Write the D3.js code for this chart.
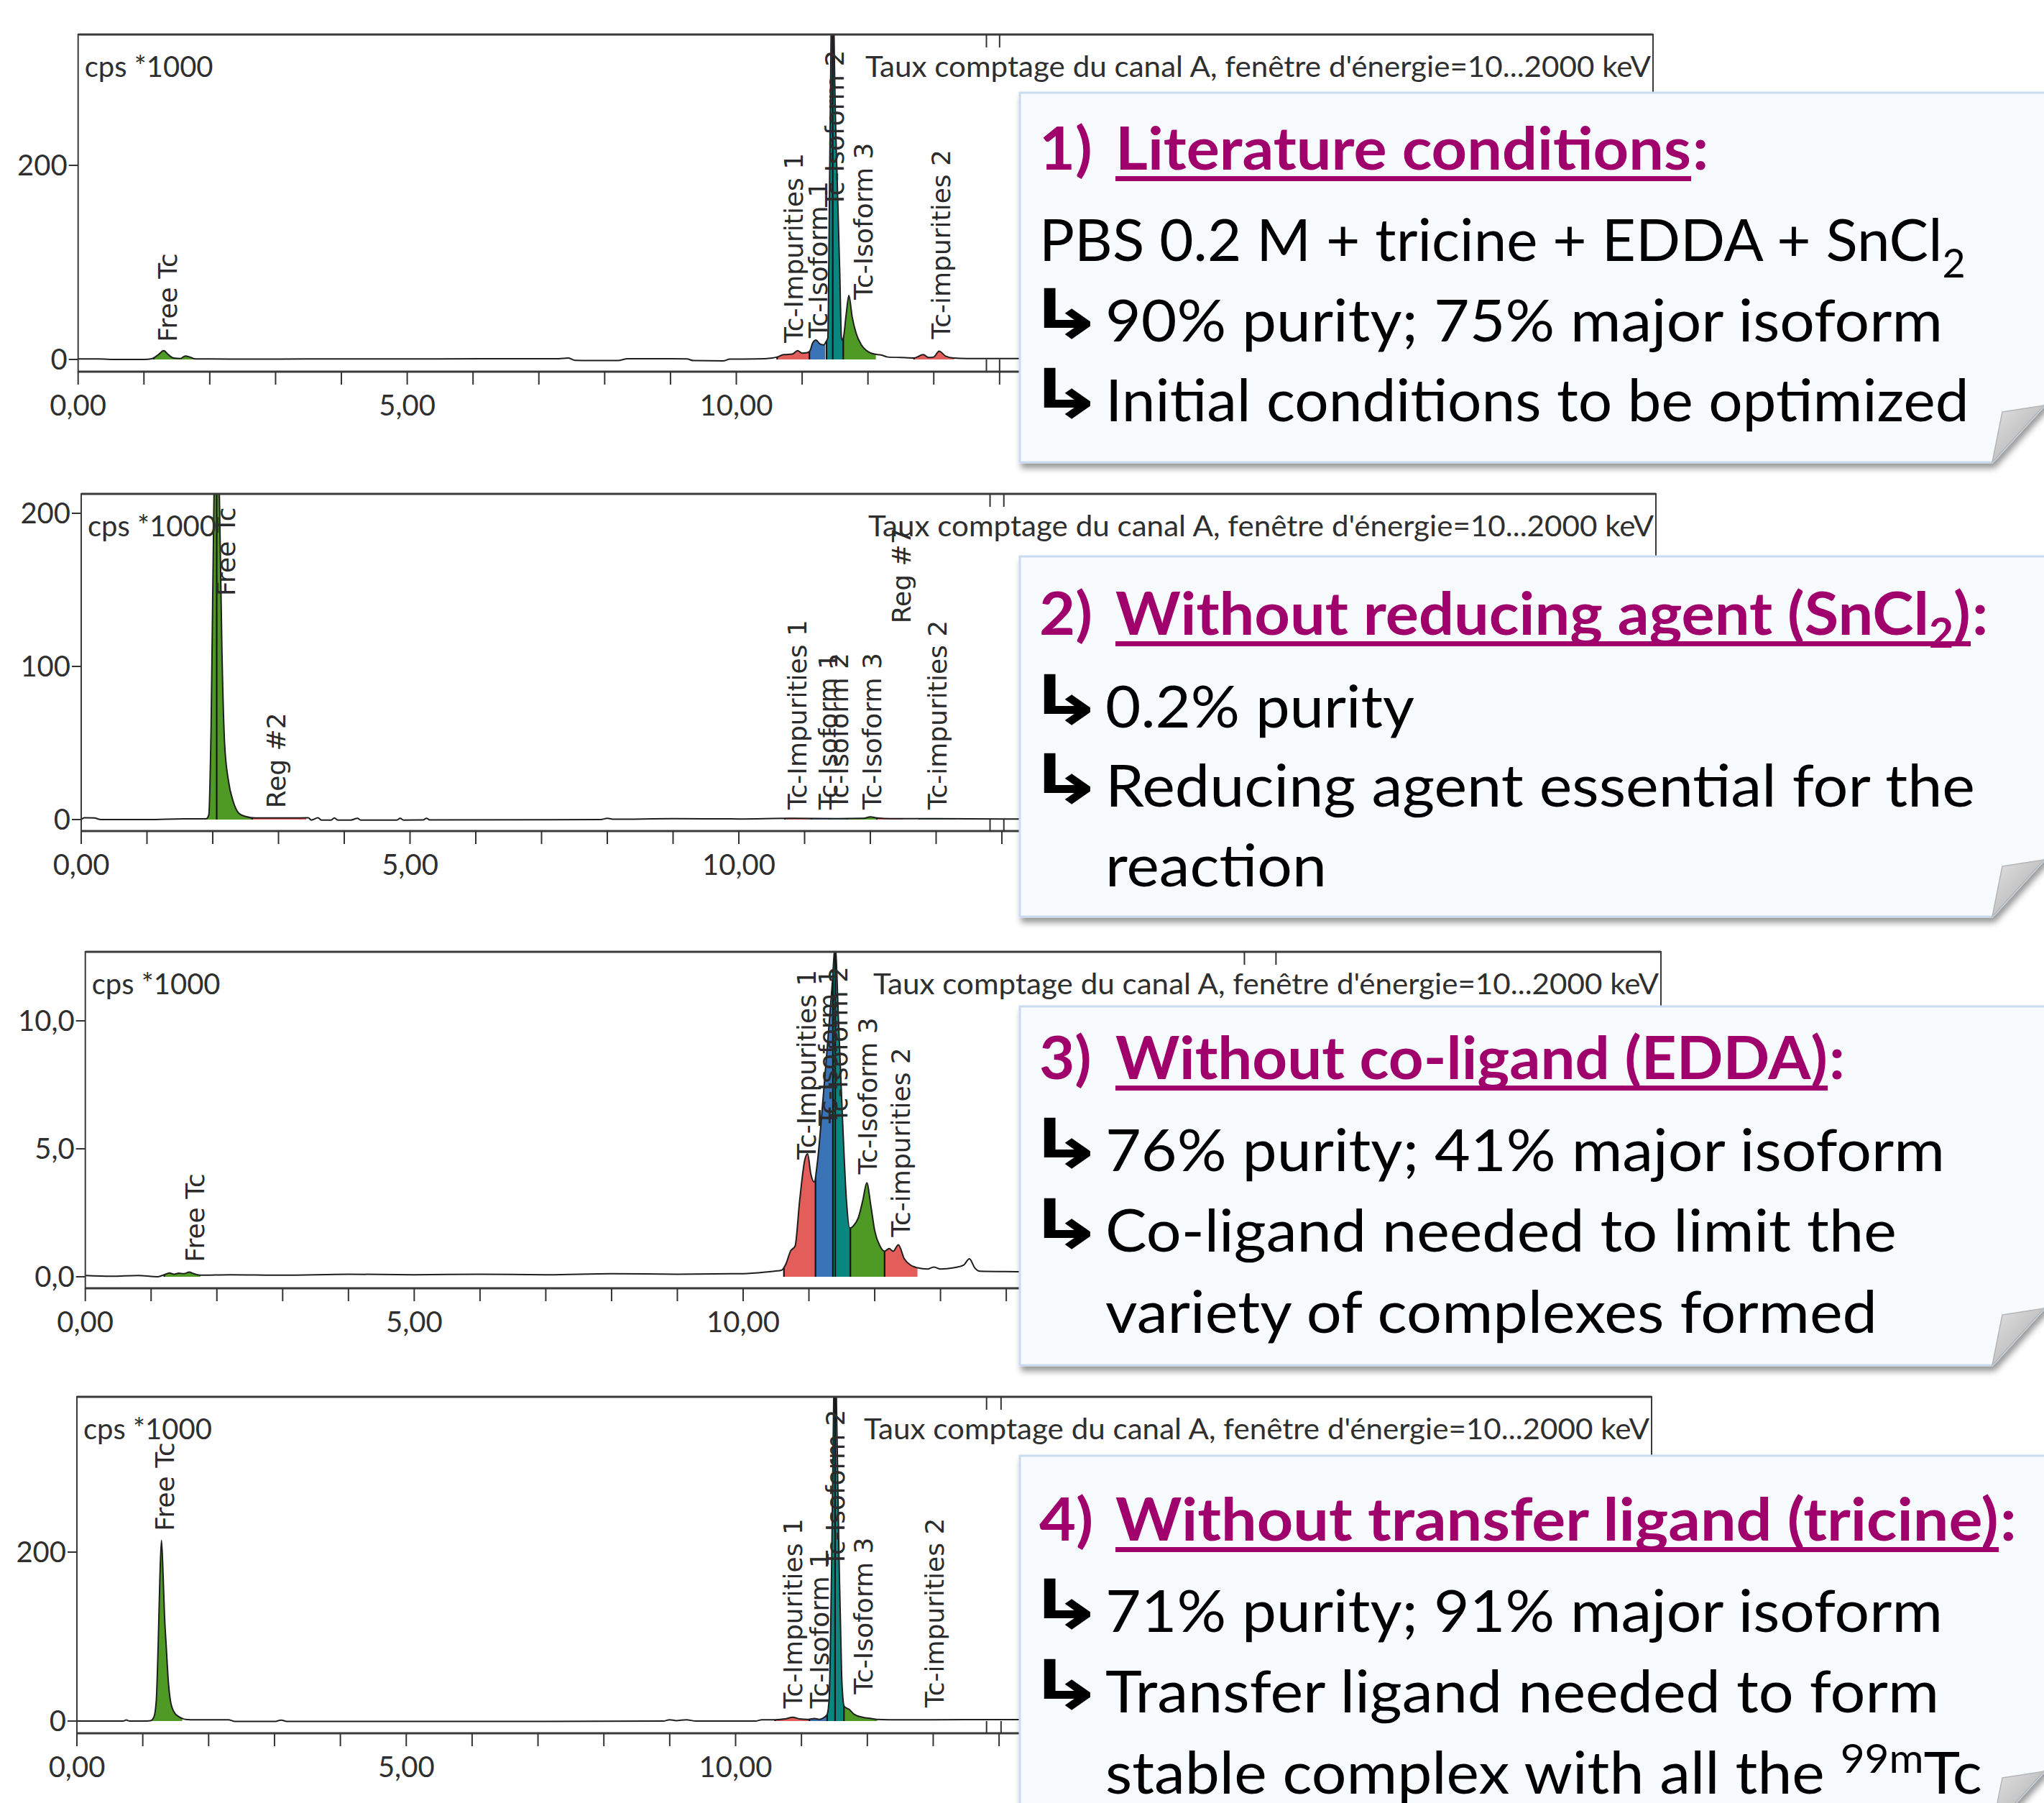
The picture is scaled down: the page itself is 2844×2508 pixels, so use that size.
<!DOCTYPE html>
<html>
<head>
<meta charset="utf-8">
<script src="https://cdn.jsdelivr.net/npm/d3@7"></script>
<style>
  body { margin: 0; background: #fff; }
  text { white-space: pre; }
</style>
</head>
<body>
<svg id="chart" width="2844" height="2508"></svg>
<script>
// ---- chromatogram traces: [retention time (min), counts (cps*1000)] ----
var p1Trace = [[0,0.5],[0.3,0.5],[0.6,0],[1.0,0],[1.12,0.8],[1.22,5],[1.30,9],[1.37,5],[1.45,1.5],[1.55,1],
    [1.63,3.5],[1.70,2.5],[1.78,0.5],[2.0,0.5],[2.6,0.3],[3.5,0.5],[4.5,0.5],[5.5,0.6],[6.5,0.8],[7.3,0.8],
    [7.45,1.5],[7.55,-1],[8.2,-1.2],[8.35,0.8],[9.0,0.8],[9.25,0.5],[9.35,-1.2],[9.8,-1.5],[9.9,0.3],[10.3,0.5],
    [10.55,1.5],[10.62,2.5],[10.72,5],[10.85,5.5],[10.93,9],[11.0,6.5],[11.08,7],[11.12,9],[11.16,17],[11.21,20],
    [11.27,16],[11.33,15],[11.36,18],[11.39,22],[11.415,167],[11.44,334],[11.465,460],[11.485,334],[11.54,167],
    [11.57,94],[11.60,20],[11.625,22],[11.67,47],[11.71,66],[11.76,44],[11.82,27],[11.90,15],[12.02,7.4],
    [12.15,5],[12.21,4.5],[12.3,2.5],[12.5,2],[12.7,1.5],[12.84,5],[12.92,2],[13.0,2.5],[13.08,8.5],[13.18,3.5],
    [13.3,1.5],[13.5,1],[14.5,1],[16,1]];
var p2Trace = [[0,0],[0.05,1.2],[0.2,1.0],[0.3,0],[1.0,0],[1.6,0.5],[1.9,0.5],[1.94,3],[1.975,60],[2.02,214],
    [2.06,265],[2.10,214],[2.14,110],[2.18,50],[2.24,25],[2.31,12],[2.40,4],[2.5,2],[2.65,1],[3.2,1],[3.45,1.2],
    [3.5,-0.3],[3.6,1.2],[3.65,-0.3],[3.8,-0.3],[3.85,1],[3.9,-0.3],[4.1,-0.3],[4.2,0.8],[4.25,-0.3],[4.8,-0.3],
    [4.85,0.8],[4.9,-0.3],[5.2,-0.2],[5.25,0.8],[5.3,-0.2],[7.9,0],[8.0,0.8],[8.1,0.2],[9.0,0.6],[10.0,0.4],
    [10.8,0.8],[11.5,0.6],[11.9,0.8],[12.0,1.8],[12.1,1.0],[12.3,0.6],[13.0,0.6],[14,0.4],[16,0.4]];
var p3Trace = [[0,0.05],[0.4,0.02],[0.8,0.05],[1.1,0.0],[1.2,0.08],[1.28,0.15],[1.35,0.1],[1.42,0.14],[1.5,0.12],
    [1.58,0.18],[1.65,0.12],[1.75,0.06],[2.2,0.08],[3.0,0.06],[4.0,0.1],[5.0,0.08],[6.0,0.1],[7.0,0.08],[8.0,0.12],
    [9.0,0.1],[10.0,0.12],[10.4,0.2],[10.58,0.25],[10.65,0.5],[10.72,1.0],[10.79,1.2],[10.86,3.0],[10.94,4.6],
    [10.98,4.8],[11.03,4.0],[11.08,3.7],[11.13,4.5],[11.2,6.5],[11.28,9.0],[11.35,11.3],[11.40,12.9],[11.45,10.0],
    [11.51,6.2],[11.57,3.0],[11.62,1.9],[11.68,2.0],[11.75,2.3],[11.82,3.0],[11.88,3.67],[11.94,2.8],[12.0,1.8],
    [12.08,1.2],[12.15,1.0],[12.22,1.1],[12.28,1.0],[12.36,1.25],[12.45,0.7],[12.55,0.45],[12.65,0.35],[12.8,0.3],
    [12.9,0.38],[13.0,0.3],[13.2,0.35],[13.35,0.45],[13.44,0.7],[13.52,0.35],[13.6,0.22],[14.2,0.2],[15.5,0.15]];
var p4Trace = [[0,0],[0.7,0],[0.75,1.2],[0.8,0],[1.0,0],[1.12,0.5],[1.17,5],[1.205,24],[1.234,90],[1.26,170],
    [1.284,214],[1.31,170],[1.33,125],[1.355,90],[1.39,45],[1.42,24],[1.48,10],[1.55,5],[1.65,2],[1.8,1.5],
    [2.3,1.5],[2.4,-0.5],[3.0,-0.5],[3.1,1],[3.2,-0.5],[5.0,-0.5],[7.0,-0.5],[8.9,0],[9.0,1.5],[9.1,0.5],
    [9.25,1.5],[9.4,0],[10.3,0],[10.4,1.5],[10.6,1.5],[10.75,2.5],[10.87,4.5],[10.97,2.5],[11.1,2],[11.2,3],
    [11.27,2],[11.34,4],[11.39,8],[11.42,26],[11.46,196],[11.49,384],[11.51,470],[11.53,384],[11.57,196],
    [11.61,54],[11.63,26],[11.645,18],[11.67,16],[11.72,14],[11.80,8],[11.93,4.5],[12.06,3],[12.15,2],
    [12.5,1.5],[13,1.5],[14,1.8],[16,1.5]];

// ---- integrated regions: [start, end, colour key] ----
var p1Regions = [[1.15,1.85,'green'],[10.62,11.11,'red'],[11.11,11.35,'blue'],[11.37,11.625,'teal'],[11.625,12.12,'green'],[12.70,13.31,'red']];
var p2Regions = [[1.1,2.6,'green'],[2.6,3.42,'red'],[10.7,11.1,'red'],[11.1,11.35,'blue'],[11.37,11.65,'teal'],[11.65,12.1,'green'],[12.1,12.5,'red'],[12.75,13.3,'teal']];
var p3Regions = [[1.2,1.75,'green'],[10.62,11.10,'red'],[11.10,11.355,'blue'],[11.365,11.63,'teal'],[11.63,12.15,'green'],[12.15,12.65,'red']];
var p4Regions = [[1.12,1.6,'green'],[10.6,11.12,'red'],[11.12,11.38,'blue'],[11.39,11.645,'teal'],[11.645,12.15,'green']];

// apex markers of off-scale peaks
var p1Apex = [11.465];
var p2Apex = [2.06];
var p3Apex = [11.40];
var p4Apex = [11.51];

// peak labels: [name, time, value at the label foot]
var p1Labels = [['Free Tc',1.36,18],['Tc-Impurities 1',10.87,17],['Tc-Isoform 1',11.24,22],['Tc-Isoform 2',11.49,157],['Tc-Isoform 3',11.93,61.5],['Tc-impurities 2',13.11,21]];
var p2Labels = [['Free Tc',2.20,146],['Reg #2',2.96,7.4],['Tc-Impurities 1',10.89,6.4],['Tc-Isoform 1',11.36,6.4],['Tc-Isoform 2',11.52,6.4],['Tc-Isoform 3',12.02,6.4],['Reg #7',12.47,128],['Tc-impurities 2',13.02,6.4]];
var p3Labels = [['Free Tc',1.66,0.57],['Tc-Impurities 1',10.96,4.58],['Tc-Isoform 1',11.29,5.9],['Tc-Isoform 2',11.44,6.0],['Tc-Isoform 3',11.89,4.0],['Tc-impurities 2',12.39,1.55]];
var p4Labels = [['Free Tc',1.33,225],['Tc-Impurities 1',10.87,15],['Tc-Isoform 1',11.27,15],['Tc-Isoform 2',11.51,183],['Tc-Isoform 3',11.94,31.6],['Tc-impurities 2',13.02,16]];

// integration window marks
var p1Marks = [13.8, 14.0];
var p2Marks = [13.82, 14.03];
var p3Marks = [17.62, 18.1];
var p4Marks = [13.81, 14.03];

// axes
var p1YTicks = [0, 200];
var p2YTicks = [0, 100, 200];
var p3YTicks = [0, 5, 10];
var p4YTicks = [0, 200];
var xTickLabels = [0, 5, 10];
var xTicks = d3.range(0, 24);

var yUnit = 'cps *1000';
var chartTitle = "Taux comptage du canal A, fenêtre d'énergie=10...2000 keV";

// ---- callout texts ----
var calloutBoxes = [[129, 643], [774, 1275], [1400, 1899], [2025, 2543]];
// [number, underlined title segments, baseline, title width]
var calloutHeads = [
    ['1)', ['Literature conditions'], 236, 801],
    ['2)', ['Without reducing agent (SnCl', {t: '2', sub: true}, ')'], 883, 1190],
    ['3)', ['Without co-ligand (EDDA)'], 1501, 991],
    ['4)', ['Without transfer ligand (tricine)'], 2143, 1229]
];
// [baseline, kind, segments, width]
var calloutLines = [
    [362.5, 'none', ['PBS 0.2 M + tricine + EDDA + SnCl', {t: '2', sub: true}], 1289],
    [475, 'arrow', ['90% purity; 75% major isoform'], 1165],
    [585.7, 'arrow', ['Initial conditions to be optimized'], 1202],
    [1012, 'arrow', ['0.2% purity'], 430],
    [1122, 'arrow', ['Reducing agent essential for the'], 1210],
    [1233, 'indent', ['reaction'], 308],
    [1629, 'arrow', ['76% purity; 41% major isoform'], 1168],
    [1741, 'arrow', ['Co-ligand needed to limit the'], 1101],
    [1854, 'indent', ['variety of complexes formed'], 1074],
    [2270, 'arrow', ['71% purity; 91% major isoform'], 1165],
    [2382, 'arrow', ['Transfer ligand needed to form'], 1160],
    [2494.5, 'indent', ['stable complex with all the ', {t: '99m', sup: true}, 'Tc'], 1220]
];

var regionColors = { red: '#e35d5b', blue: '#3a74b6', teal: '#0b8781', green: '#4f9a24' };
var purple = '#a0006c';

var locale = d3.formatLocale({ decimal: ',', thousands: ' ', grouping: [3], currency: ['', ''] });
var fmtX = locale.format('.2f');
var fmtInt = locale.format('d');
var fmtOne = locale.format('.1f');

var svg = d3.select('#chart');
svg.append('rect').attr('width', 2844).attr('height', 2508).attr('fill', '#fff');
var defs = svg.append('defs');

var panels = [
    { id: 'p1', trace: p1Trace, regions: p1Regions, apex: p1Apex, labels: p1Labels, marks: p1Marks,
      yTicks: p1YTicks, yFmt: fmtInt, frame: [108.7, 48, 2300, 517], x10: 1024.5, y0: 500, yRef: [200, 230] },
    { id: 'p2', trace: p2Trace, regions: p2Regions, apex: p2Apex, labels: p2Labels, marks: p2Marks,
      yTicks: p2YTicks, yFmt: fmtInt, frame: [113, 687, 2304, 1156], x10: 1028, y0: 1140, yRef: [200, 714] },
    { id: 'p3', trace: p3Trace, regions: p3Regions, apex: p3Apex, labels: p3Labels, marks: p3Marks,
      yTicks: p3YTicks, yFmt: fmtOne, frame: [118.7, 1324, 2311, 1792], x10: 1034, y0: 1776, yRef: [10, 1420] },
    { id: 'p4', trace: p4Trace, regions: p4Regions, apex: p4Apex, labels: p4Labels, marks: p4Marks,
      yTicks: p4YTicks, yFmt: fmtInt, frame: [107, 1943, 2298, 2411], x10: 1023.5, y0: 2394, yRef: [200, 2159] }
];

function drawPanel(p) {
    var L = p.frame[0], T = p.frame[1], R = p.frame[2], B = p.frame[3];
    var x = d3.scaleLinear().domain([0, 10]).range([L, p.x10]);
    var y = d3.scaleLinear().domain([0, p.yRef[0]]).range([p.y0, p.yRef[1]]);
    var g = svg.append('g');

    defs.append('clipPath').attr('id', p.id + '-frame')
        .append('rect').attr('x', L).attr('y', T).attr('width', R - L).attr('height', B - T);

    var area = d3.area().x(function(d) { return x(d[0]); }).y0(y(0))
        .y1(function(d) { return y(d[1]); }).curve(d3.curveMonotoneX);
    var line = d3.line().x(function(d) { return x(d[0]); })
        .y(function(d) { return y(d[1]); }).curve(d3.curveMonotoneX);

    defs.append('clipPath').attr('id', p.id + '-under').append('path').attr('d', area(p.trace));

    var plot = g.append('g').attr('clip-path', 'url(#' + p.id + '-frame)');

    p.regions.forEach(function(r, i) {
        var cid = p.id + '-reg' + i;
        defs.append('clipPath').attr('id', cid).append('rect')
            .attr('x', x(r[0])).attr('y', T - 10).attr('width', x(r[1]) - x(r[0])).attr('height', B - T + 20);
        plot.append('path').attr('d', area(p.trace)).attr('fill', regionColors[r[2]])
            .attr('clip-path', 'url(#' + cid + ')');
    });

    var edges = plot.append('g').attr('clip-path', 'url(#' + p.id + '-under)');
    p.regions.map(function(r) { return r[0]; }).concat(p.apex).forEach(function(t) {
        edges.append('line').attr('x1', x(t)).attr('x2', x(t)).attr('y1', y(0) + 5).attr('y2', T)
            .attr('stroke', '#151515').attr('stroke-width', 2.2);
    });

    plot.append('path').attr('d', line(p.trace)).attr('fill', 'none')
        .attr('stroke', '#1e1e1e').attr('stroke-width', 2).attr('stroke-linejoin', 'round');

    // frame
    g.append('rect').attr('x', L).attr('y', T).attr('width', R - L).attr('height', B - T)
        .attr('fill', 'none').attr('stroke', '#3a3a3a').attr('stroke-width', 2);
    g.append('line').attr('x1', L).attr('x2', R).attr('y1', T).attr('y2', T)
        .attr('stroke', '#3a3a3a').attr('stroke-width', 3);
    g.append('line').attr('x1', L).attr('x2', R).attr('y1', B).attr('y2', B)
        .attr('stroke', '#3a3a3a').attr('stroke-width', 3);

    // marks
    p.marks.forEach(function(m) {
        g.append('line').attr('x1', x(m)).attr('x2', x(m)).attr('y1', T).attr('y2', T + 18)
            .attr('stroke', '#333').attr('stroke-width', 2);
        g.append('line').attr('x1', x(m)).attr('x2', x(m)).attr('y1', y(0)).attr('y2', B)
            .attr('stroke', '#333').attr('stroke-width', 2);
    });

    // y axis
    p.yTicks.forEach(function(v) {
        g.append('line').attr('x1', L - 13).attr('x2', L).attr('y1', y(v)).attr('y2', y(v))
            .attr('stroke', '#333').attr('stroke-width', 2);
        g.append('text').attr('x', L - 15).attr('y', y(v)).attr('dy', '0.35em')
            .attr('text-anchor', 'end').attr('class', 'axis').text(p.yFmt(v));
    });

    // x axis
    xTicks.forEach(function(t) {
        if (x(t) > R) return;
        g.append('line').attr('x1', x(t)).attr('x2', x(t)).attr('y1', B).attr('y2', B + 18)
            .attr('stroke', '#333').attr('stroke-width', 2);
    });
    xTickLabels.forEach(function(t) {
        g.append('text').attr('x', x(t)).attr('y', B + 61).attr('text-anchor', 'middle')
            .attr('class', 'axis').text(fmtX(t));
    });

    g.append('text').attr('x', L + 9).attr('y', T + 59).attr('class', 'axis').text(yUnit);
    g.append('text').attr('x', R - 3).attr('y', T + 59).attr('text-anchor', 'end').attr('class', 'axis')
        .attr('textLength', 1093).attr('lengthAdjust', 'spacingAndGlyphs').text(chartTitle);

    // peak labels
    p.labels.forEach(function(l) {
        g.append('text')
            .attr('transform', 'translate(' + x(l[1]) + ',' + y(l[2]) + ') rotate(-90)')
            .attr('dy', '0.36em')
            .style('font-family', '"DejaVu Sans", Verdana, sans-serif')
            .style('font-size', '36px').attr('fill', '#2b2b2b').text(l[0]);
    });

    g.selectAll('text.axis').style('font-family', 'Lato, sans-serif').style('font-size', '40px')
        .attr('fill', '#2f2f2f');
}

panels.forEach(drawPanel);

// ---- callouts ----
var shadow = defs.append('filter').attr('id', 'shadow').attr('x', '-5%').attr('y', '-5%')
    .attr('width', '110%').attr('height', '120%');
shadow.append('feDropShadow').attr('dx', 3).attr('dy', 7).attr('stdDeviation', 4)
    .attr('flood-color', '#000').attr('flood-opacity', 0.4);
var fold = defs.append('linearGradient').attr('id', 'fold').attr('x1', 0).attr('y1', 0).attr('x2', 1).attr('y2', 1);
fold.append('stop').attr('offset', 0).attr('stop-color', '#e2e2e2');
fold.append('stop').attr('offset', 1).attr('stop-color', '#a9a9a9');

var regStyle = { family: 'Lato, sans-serif', size: 82, weight: 400, color: '#000', subShift: 23.5, supShift: 28.5 };
var boldStyle = { family: 'Lato, sans-serif', size: 83, weight: 700, color: purple, subShift: 18, supShift: 28 };

function addText(parent, x, y, segs, style) {
    var g = parent.append('g').attr('transform', 'translate(' + x + ',' + y + ')');
    var t = g.append('text').style('font-family', style.family).style('font-size', style.size + 'px')
        .style('font-weight', style.weight).attr('fill', style.color);
    var shift = 0;
    segs.forEach(function(s) {
        var seg = typeof s === 'string' ? { t: s } : s;
        var target = seg.sub ? style.subShift : (seg.sup ? -style.supShift : 0);
        var ts = t.append('tspan').attr('dy', target - shift).text(seg.t);
        if (seg.sub || seg.sup) ts.style('font-size', (style.size * 0.68) + 'px');
        shift = target;
    });
    return { g: g, t: t, w: t.node().getComputedTextLength(), x: x, y: y };
}
function squeeze(o, sx) {
    o.g.attr('transform', 'translate(' + o.x + ',' + o.y + ') scale(' + sx + ',1)');
    return o.w * sx;
}

var boxLeft = 1419, textLeft = 1446, indentLeft = 1538, titleLeft = 1552;

calloutBoxes.forEach(function(b, i) {
    var top = b[0], bot = b[1];
    var cg = svg.append('g');
    cg.append('path')
        .attr('d', 'M' + boxLeft + ',' + top + ' L2900,' + top + ' L2900,' + (bot - 140.4) +
            ' L2772,' + bot + ' L' + boxLeft + ',' + bot + ' Z')
        .attr('fill', '#f8fbfe').attr('stroke', '#c9dbef').attr('stroke-width', 3)
        .attr('filter', 'url(#shadow)');
    cg.append('path')
        .attr('d', 'M2772,' + bot + ' L2786,' + (bot - 70) + ' L2844,' + (bot - 79) + ' Z')
        .attr('fill', 'url(#fold)').attr('stroke', '#b5b5b5').attr('stroke-width', 1.5);

    var h = calloutHeads[i];
    var ttl = addText(cg, titleLeft, h[2], h[1], boldStyle);
    var sx = h[3] / ttl.w;
    var w = squeeze(ttl, sx);
    squeeze(addText(cg, textLeft, h[2], [h[0]], boldStyle), sx);
    cg.append('rect').attr('x', titleLeft).attr('y', h[2] + 9).attr('width', w).attr('height', 7).attr('fill', purple);
    squeeze(addText(cg, titleLeft + w + 2, h[2], [':'], boldStyle), sx);
});

calloutLines.forEach(function(l) {
    var x0 = l[1] === 'none' ? textLeft : indentLeft;
    if (l[1] === 'arrow') {
        svg.append('text')
            .attr('transform', 'translate(1427,' + (l[0] - 6) + ') scale(1.6,1.12)')
            .style('font-family', '"DejaVu Sans", sans-serif').style('font-weight', 700)
            .style('font-size', '84px').attr('fill', '#000').text('\u21B3');
    }
    var o = addText(svg, x0, l[0], l[2], regStyle);
    squeeze(o, l[3] / o.w);
});
</script>
</body>
</html>
